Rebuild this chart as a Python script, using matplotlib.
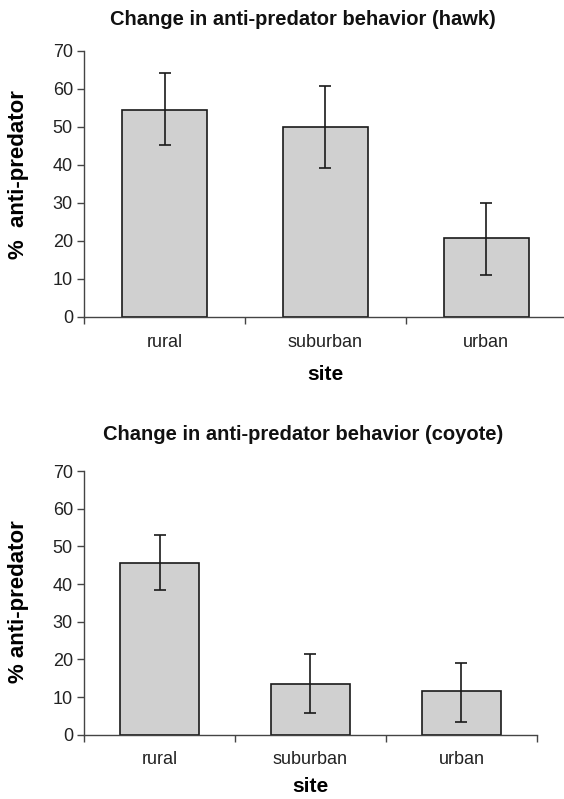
import matplotlib
matplotlib.use("Agg")
import matplotlib.pyplot as plt
from matplotlib.ticker import FixedLocator, NullFormatter

plt.rcParams['font.family'] = ['Liberation Sans', 'DejaVu Sans']

sites = ["rural", "suburban", "urban"]

# hawk panel
hawk_mean = [54.5, 50.1, 20.9]
hawk_low = [45.2, 39.1, 11.0]
hawk_high = [64.2, 60.7, 30.0]

# coyote panel
coyote_mean = [45.5, 13.4, 11.5]
coyote_low = [38.3, 5.8, 3.4]
coyote_high = [53.1, 21.5, 19.1]

titles = ["Change in anti-predator behavior (hawk)",
          "Change in anti-predator behavior (coyote)"]
ylabels = ["%  anti-predator", "% anti-predator"]
yticks = [0, 10, 20, 30, 40, 50, 60, 70]


def draw_panel(ax, mean, low, high, width, ylabel, ylab_pos, xpad):
    x = [i + 0.5 for i in range(len(sites))]
    yerr = [[m - l for m, l in zip(mean, low)],
            [h - m for m, h in zip(mean, high)]]
    ax.bar(x, mean, width=width, color="#d0d0d0", edgecolor="#1a1a1a",
           linewidth=1.2, zorder=2)
    ax.errorbar(x, mean, yerr=yerr, fmt="none", ecolor="#1a1a1a",
                elinewidth=1.2, capsize=4, capthick=1.2, zorder=3)
    ax.set_xlim(0, len(sites))
    ax.set_ylim(0, 70)
    ax.set_yticks(yticks)
    ax.xaxis.set_major_locator(FixedLocator(range(len(sites) + 1)))
    ax.xaxis.set_major_formatter(NullFormatter())
    ax.xaxis.set_minor_locator(FixedLocator(x))
    ax.set_xticklabels(sites, minor=True)
    ax.tick_params(axis="x", which="minor", length=0, pad=12,
                   labelsize=13, labelcolor="#222222")
    ax.tick_params(axis="x", which="major", length=5, width=1,
                   color="#444444")
    ax.tick_params(axis="y", length=5, width=1, color="#444444", pad=3,
                   labelsize=13, labelcolor="#222222")
    for s in ["top", "right"]:
        ax.spines[s].set_visible(False)
    for s in ["left", "bottom"]:
        ax.spines[s].set_color("#444444")
        ax.spines[s].set_linewidth(1)
    ax.set_xlabel("site", fontsize=15, fontweight="bold", labelpad=xpad)
    ax.set_ylabel(ylabel, fontsize=16, fontweight="bold")
    ax.yaxis.set_label_coords(*ylab_pos)


fig = plt.figure(figsize=(5.64, 7.99), dpi=100)

ax1 = fig.add_axes([0.149, 0.6033, 0.856, 0.3329])
draw_panel(ax1, hawk_mean, hawk_low, hawk_high, 0.53,
           ylabels[0], (-0.114, 0.535), 10)

ax2 = fig.add_axes([0.149, 0.0805, 0.803, 0.3300])
draw_panel(ax2, coyote_mean, coyote_low, coyote_high, 0.52,
           ylabels[1], (-0.122, 0.505), 6)

fig.text(0.537, 0.975, titles[0], ha="center", va="center",
         fontsize=14.5, fontweight="bold", color="#111111")
fig.text(0.537, 0.4556, titles[1], ha="center", va="center",
         fontsize=14.5, fontweight="bold", color="#111111")

fig.savefig("out.png", dpi=100)
